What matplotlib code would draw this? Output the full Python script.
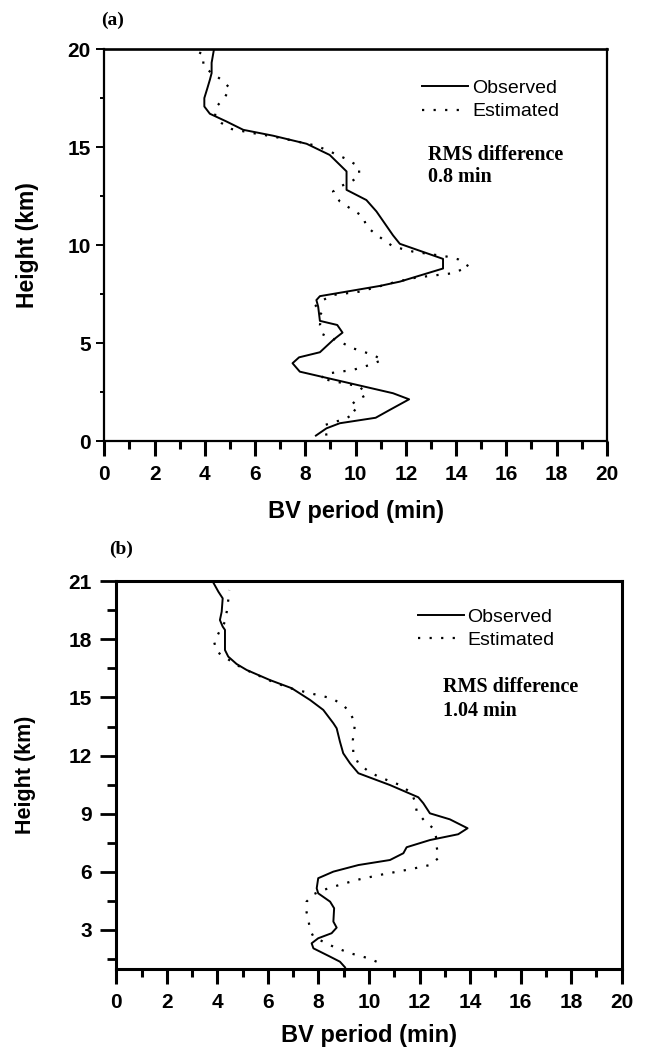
import matplotlib
matplotlib.use("Agg")
import matplotlib.pyplot as plt
from matplotlib.ticker import MultipleLocator, FixedLocator

# ---------------- data ----------------
# Panel (a)
a_obs_x = [8.42, 8.84, 9.37, 10.80, 11.36, 12.13, 11.49, 7.78, 7.49, 7.75, 8.58, 9.11, 9.48, 9.27,
           8.58, 8.51, 8.44, 8.58, 9.04, 10.96, 11.76, 13.48, 13.48, 11.76, 11.49, 10.83, 10.43,
           9.64, 9.64, 8.97, 8.05, 6.72, 5.53, 4.87, 4.20, 3.98, 3.98, 4.10, 4.20, 4.27, 4.27, 4.36]
a_obs_y = [0.29, 0.66, 0.92, 1.20, 1.60, 2.14, 2.45, 3.55, 3.98, 4.28, 4.54, 5.17, 5.54, 5.93,
           6.14, 6.87, 7.20, 7.40, 7.50, 7.92, 8.14, 8.81, 9.30, 10.07, 10.50, 11.72, 12.30,
           12.82, 13.76, 14.60, 15.17, 15.58, 15.88, 16.30, 16.70, 17.07, 17.50, 18.00, 18.43,
           18.77, 19.30, 19.96]
a_est_x = [8.84, 8.78, 9.64, 10.03, 9.77, 10.03, 10.43, 10.17, 8.58, 8.97, 9.90, 10.56, 11.07,
           10.70, 9.90, 9.37, 8.68, 8.58, 8.68, 8.35, 8.58, 9.10, 10.17, 11.49, 12.42, 13.88,
           14.51, 14.08, 13.62, 12.29, 11.49, 10.83, 10.43, 10.30, 9.77, 9.37, 9.10, 9.37, 9.77,
           10.14, 10.14, 9.64, 8.97, 8.44, 7.65, 6.72, 5.93, 5.07, 4.67, 4.40, 4.47, 4.80, 5.00,
           4.67, 4.27, 3.94, 3.94, 3.61]
a_est_y = [0.29, 0.83, 1.17, 1.51, 1.77, 2.10, 2.36, 2.79, 3.21, 3.47, 3.64, 3.89, 4.15, 4.40,
           4.74, 5.08, 5.46, 5.93, 6.44, 6.82, 7.12, 7.46, 7.63, 8.09, 8.35, 8.57, 8.91, 9.28,
           9.42, 9.67, 9.93, 10.53, 10.95, 11.46, 11.89, 12.23, 12.73, 12.99, 13.20, 13.50,
           14.00, 14.39, 14.78, 15.07, 15.29, 15.54, 15.71, 15.92, 16.22, 16.56, 17.07, 17.55,
           18.00, 18.43, 18.77, 19.15, 19.72, 19.93]

# Panel (b)
b_obs_x = [9.05, 8.85, 8.46, 7.80, 7.73, 7.99, 8.52, 8.72, 8.59, 8.62, 8.46, 7.99, 7.93, 7.99,
           8.59, 9.58, 10.83, 11.36, 11.49, 12.41, 13.53, 13.90, 13.20, 12.41, 12.15, 11.95,
           10.83, 9.58, 9.25, 8.98, 8.85, 8.72, 8.59, 8.19, 7.67, 6.94, 6.08, 5.16, 4.76, 4.43,
           4.30, 4.30, 4.30, 4.21, 4.10, 4.17, 4.21, 4.04, 3.84]
b_obs_y = [1.07, 1.36, 1.62, 2.05, 2.31, 2.57, 2.83, 3.12, 3.43, 4.12, 4.46, 4.89, 5.15, 5.67,
           6.01, 6.35, 6.61, 6.96, 7.27, 7.64, 7.94, 8.25, 8.71, 9.02, 9.54, 9.85, 10.48, 11.09,
           11.60, 12.12, 12.72, 13.41, 13.67, 14.36, 14.87, 15.48, 15.90, 16.42, 16.73, 17.11,
           17.45, 17.88, 18.49, 18.66, 19.00, 19.43, 20.12, 20.46, 20.93]
b_est_x = [10.30, 9.97, 9.25, 8.65, 8.26, 7.80, 7.67, 7.60, 7.51, 7.53, 7.80, 8.19, 8.59, 9.51,
           10.43, 11.62, 12.41, 12.74, 12.68, 12.65, 12.54, 12.22, 11.89, 11.82, 11.69, 11.23,
           10.37, 9.91, 9.58, 9.38, 9.36, 9.45, 9.25, 8.98, 8.52, 7.67, 6.87, 6.08, 5.29, 4.76,
           4.37, 3.97, 3.87, 4.08, 4.30, 4.37, 4.43, 4.47]
b_est_y = [1.36, 1.54, 1.80, 2.10, 2.34, 2.65, 3.00, 3.51, 4.03, 4.46, 4.84, 5.06, 5.23, 5.58,
           5.84, 6.13, 6.35, 6.70, 7.30, 7.81, 8.25, 8.59, 9.11, 9.62, 10.06, 10.48, 10.91,
           11.26, 11.60, 12.12, 12.80, 13.67, 14.22, 14.61, 14.96, 15.22, 15.48, 15.87, 16.33,
           16.68, 17.02, 17.37, 17.88, 18.40, 18.91, 19.43, 20.03, 20.55]

series_labels = ["Observed", "Estimated"]
x_ticks = [0, 2, 4, 6, 8, 10, 12, 14, 16, 18, 20]
a_y_ticks = [0, 5, 10, 15, 20]
b_y_ticks = [3, 6, 9, 12, 15, 18, 21]
rms_a = ["RMS difference", "0.8 min"]
rms_b = ["RMS difference", "1.04 min"]

# ---------------- figure ----------------
SANS = ["Liberation Sans", "DejaVu Sans"]
SERIF = ["Liberation Serif", "DejaVu Serif"]
plt.rcParams["font.family"] = SANS
plt.rcParams["font.weight"] = "bold"
plt.rcParams["font.size"] = 15
plt.rcParams["xtick.labelsize"] = 15
plt.rcParams["ytick.labelsize"] = 15

fig = plt.figure(figsize=(6.48, 10.59), dpi=100)

ax_a = fig.add_axes([0.1610, 0.5833, 0.7755, 0.3704])
ax_b = fig.add_axes([0.1795, 0.0853, 0.7799, 0.3658])

dot = (0, (1, 4.2))

def style(ax, ylim, yticks, yminor, spine_w, ytick_len, ytick_w, ypad):
    ax.set_xlim(0, 20)
    ax.set_ylim(*ylim)
    ax.xaxis.set_major_locator(FixedLocator(x_ticks))
    ax.xaxis.set_minor_locator(MultipleLocator(1))
    ax.yaxis.set_major_locator(FixedLocator(yticks))
    ax.yaxis.set_minor_locator(MultipleLocator(yminor))
    for s in ax.spines.values():
        s.set_linewidth(spine_w)
    ax.tick_params(axis="x", which="major", direction="out", length=10.8, width=2.2,
                   pad=6.5, top=False, labelsize=15)
    ax.tick_params(axis="x", which="minor", direction="out", length=5.8, width=2.2, top=False)
    ax.tick_params(axis="y", which="major", direction="out", length=ytick_len[0], width=ytick_w,
                   pad=ypad, right=False, labelsize=15)
    ax.tick_params(axis="y", which="minor", direction="out", length=ytick_len[1], width=ytick_w,
                   right=False)

# Panel (a)
ax_a.plot(a_obs_x, a_obs_y, color="black", lw=1.4, ls="-", label=series_labels[0])
ax_a.plot(a_est_x, a_est_y, color="black", lw=1.6, ls=dot, label=series_labels[1])
style(ax_a, (0, 20), a_y_ticks, 2.5, 1.6, (5.8, 2.9), 1.4, 4.0)
ax_a.spines["top"].set_linewidth(1.9)

# Panel (b)
ax_b.plot(b_obs_x, b_obs_y, color="black", lw=1.4, ls="-", label=series_labels[0])
ax_b.plot(b_est_x, b_est_y, color="black", lw=1.6, ls=dot, label=series_labels[1])
style(ax_b, (1, 21), b_y_ticks, 1.5, 2.2, (11.5, 6.5), 2.0, 6.0)

# axis labels
for ax, xl_y, yl_x, yl_size in [(ax_a, -0.180, -0.152, 16.5), (ax_b, -0.172, -0.179, 15.5)]:
    ax.set_xlabel("BV period (min)", fontweight="bold", fontsize=17, va="center")
    ax.xaxis.set_label_coords(0.5, xl_y)
    ax.set_ylabel("Height (km)", fontweight="bold", fontsize=yl_size,
                  va="center", ha="center")
    ax.yaxis.set_label_coords(yl_x, 0.5)

# legends
for ax, lx, ly in [(ax_a, 0.633, 0.870), (ax_b, 0.597, 0.878)]:
    ax.legend(loc="center left", bbox_to_anchor=(lx, ly), frameon=False,
              prop={"family": SANS, "size": 14, "weight": "normal"}, handlelength=2.35,
              handletextpad=0.2, labelspacing=0.28, borderpad=0, borderaxespad=0)

# RMS annotations
for ax, txt, x, y1, y2 in [(ax_a, rms_a, 0.644, 0.730, 0.674), (ax_b, rms_b, 0.646, 0.727, 0.665)]:
    ax.text(x, y1, txt[0], transform=ax.transAxes, ha="left", va="center",
            family=SERIF, fontweight="bold", fontsize=14.5)
    ax.text(x, y2, txt[1], transform=ax.transAxes, ha="left", va="center",
            family=SERIF, fontweight="bold", fontsize=14.5)

# panel letters
fig.text(0.1736, 0.9811, "(a)", ha="center", va="center", family=SERIF, fontweight="bold",
         fontsize=14)
fig.text(0.1867, 0.4816, "(b)", ha="center", va="center", family=SERIF, fontweight="bold",
         fontsize=14)

fig.savefig("out.png", dpi=100)
